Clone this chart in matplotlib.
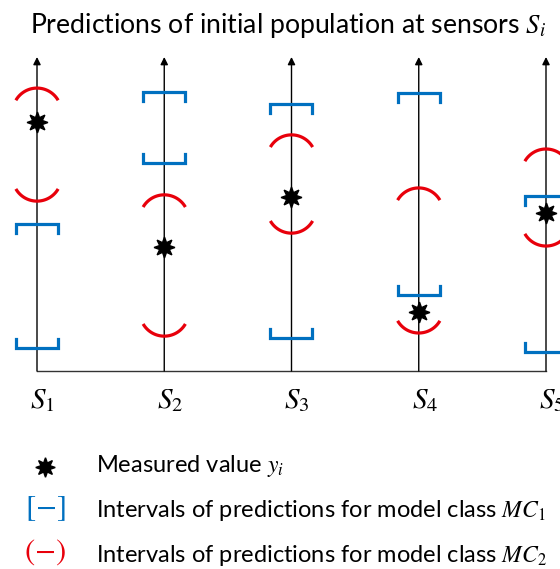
import numpy as np
import matplotlib.pyplot as plt

plt.rcParams['font.family'] = ['Lato', 'DejaVu Sans']
plt.rcParams['mathtext.fontset'] = 'stix'

# values (0 = baseline, 100 = arrow tip)
sensors = ['$S_1$', '$S_2$', '$S_3$', '$S_4$', '$S_5$']
measured = [79.3, 39.5, 55.4, 18.8, 50.3]
mc1_low = [7.3, 66.2, 10.5, 24.2, 6.1]
mc1_high = [46.8, 88.9, 85.0, 88.5, 55.7]
mc2_low = [54.1, 11.1, 43.9, 12.1, 39.8]
mc2_high = [90.1, 56.1, 75.2, 58.3, 70.7]

W, H = 560, 569
fig = plt.figure(figsize=(W/100, H/100), dpi=100)
ax = fig.add_axes([0, 0, 1, 1])
ax.axis('off')

# pixel layout: sensor 0 at x=37px, spacing 127.25px; baseline at y=371px, 3.14px per unit
sx = 127.25
sy = 3.14
ax.set_xlim(-37/sx, (W-37)/sx)
ax.set_ylim((371-H)/sy, 371/sy)
px = 1/sx   # one pixel in x data units
py = 1/sy   # one pixel in y data units

blue = '#0070C0'
red = '#E8000B'

xs = np.arange(len(sensors))
ax.plot([xs[0], xs[-1]], [0, 0], color='#333333', lw=1)
for x in xs:
    ax.annotate('', xy=(x, 100), xytext=(x, 0),
                arrowprops=dict(arrowstyle='-|>', color='black', lw=1,
                                mutation_scale=11, shrinkA=0, shrinkB=0))

def bracket(x, v, up):
    # blue square bracket, ends pointing away from the interval inside
    d = -9*py if up else 9*py
    ax.plot([x-21*px, x-21*px, x+21*px, x+21*px], [v+d, v, v, v+d],
            color=blue, lw=2.3, solid_joinstyle='miter', zorder=3)

def arc(x, v, up):
    r = 24.4
    t = np.radians(np.linspace(30, 150, 40))
    dx = r*np.cos(t)
    dy = r*np.sin(t) - r
    if not up:
        dy = -dy
    ax.plot(x + dx*px, v + dy*py, color=red, lw=2.3, zorder=3,
            solid_capstyle='butt')

for i, x in enumerate(xs):
    bracket(x, mc1_high[i], True)
    bracket(x, mc1_low[i], False)
    arc(x, mc2_high[i], True)
    arc(x, mc2_low[i], False)
    ax.plot(x, measured[i], marker=(8, 1, 0), color='black', ms=15, zorder=4)
    ax.text(x - 7*px, (371-408)*py, sensors[i], fontsize=21, ha='left', va='baseline')

fig.text(30/W, 1-33/H, 'Predictions of initial population at sensors $S_i$',
         fontsize=19.2, ha='left', va='baseline')

# legend
ax.plot(45*px - 37*px, (371-467)*py, marker=(8, 1, 0), color='black', ms=14,
        clip_on=False)
fig.text(96/W, 1-472/H, 'Measured value $y_i$', fontsize=17, ha='left', va='baseline')
fig.text(45/W, 1-509/H, '$[-]$', fontsize=22, color=blue, ha='center', va='center')
fig.text(96/W, 1-517/H, 'Intervals of predictions for model class $MC_1$',
         fontsize=17, ha='left', va='baseline')
fig.text(45/W, 1-552/H, '$(-)$', fontsize=22, color=red, ha='center', va='center')
fig.text(96/W, 1-562/H, 'Intervals of predictions for model class $MC_2$',
         fontsize=17, ha='left', va='baseline')

fig.savefig('out.png', dpi=100)
